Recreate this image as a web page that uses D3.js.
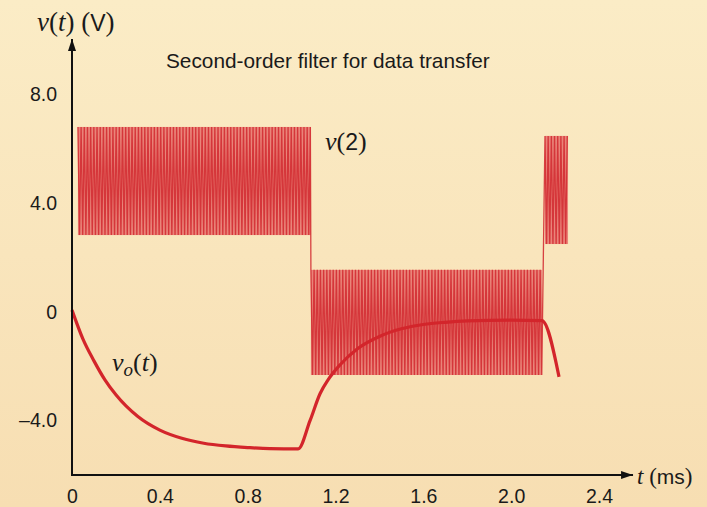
<!DOCTYPE html>
<html>
<head>
<meta charset="utf-8">
<script src="https://cdn.jsdelivr.net/npm/d3@7"></script>
<style>
  html, body { margin: 0; padding: 0; background: #f9e7c0; }
  svg { display: block; }
</style>
</head>
<body>
<svg id="chart" width="707" height="507"></svg>
<script>
// Axis tick values
const timeTicks = [0, 0.4, 0.8, 1.2, 1.6, 2.0, 2.4];   // ms
const voltTicks = [-4, 0, 4, 8];                          // V

// v(2): modulated data input, one entry per burst
const burstStart = [0.027, 1.088, 2.154];   // ms
const burstEnd   = [1.088, 2.140, 2.259];   // ms
const burstHigh  = [6.81, 1.55, 6.48];      // V
const burstLow   = [2.83, -2.32, 2.50];     // V
const carrierPeriod = 0.0145;               // ms

// v_o(t): filter output
const voTime = [0, 0.05, 0.10, 0.15, 0.20, 0.30, 0.40, 0.50, 0.60, 0.70, 0.80, 0.90, 1.03,
                1.084, 1.13, 1.166, 1.22, 1.30, 1.40, 1.50, 1.60, 1.70, 1.80, 2.00, 2.14, 2.218];
const voVolt = [0.07, -1.0, -1.8, -2.5, -3.05, -3.85, -4.35, -4.65, -4.83, -4.93, -4.99, -5.03, -5.04,
                -4.0, -3.0, -2.5, -1.95, -1.35, -0.9, -0.62, -0.46, -0.38, -0.33, -0.3, -0.32, -2.39];

const svg = d3.select("#chart");
const W = 707, H = 507;

// background wash
const defs = svg.append("defs");
const bg = defs.append("linearGradient").attr("id", "bg").attr("x1", 0).attr("y1", 0).attr("x2", 0).attr("y2", 1);
bg.append("stop").attr("offset", "0%").attr("stop-color", "#fbecc6");
bg.append("stop").attr("offset", "100%").attr("stop-color", "#f7deb2");
svg.append("rect").attr("width", W).attr("height", H).attr("fill", "url(#bg)");

defs.append("marker")
  .attr("id", "arrow").attr("viewBox", "0 0 12 8")
  .attr("refX", 12).attr("refY", 4)
  .attr("markerWidth", 12).attr("markerHeight", 8)
  .attr("markerUnits", "userSpaceOnUse")
  .attr("orient", "auto")
  .append("path").attr("d", "M0,0 L12,4 L0,8 Z").attr("fill", "#111");

const x = d3.scaleLinear().domain([0, 2.4]).range([72, 599]);
const y = d3.scaleLinear().domain([-6, 8]).range([475, 94.6]);

// v(2) bursts: shaded band with the carrier traced over it
const bands = svg.append("g");
burstStart.forEach((s, i) => {
  bands.append("rect")
    .attr("x", x(s)).attr("y", y(burstHigh[i]))
    .attr("width", x(burstEnd[i]) - x(s))
    .attr("height", y(burstLow[i]) - y(burstHigh[i]))
    .attr("fill", "#ea8479");
});

const carrierPts = [];
burstStart.forEach((s, i) => {
  const half = carrierPeriod / 2;
  let k = 0;
  for (let t = s; t <= burstEnd[i] + 1e-9; t += half, k++) {
    carrierPts.push([t, k % 2 === 0 ? burstHigh[i] : burstLow[i]]);
  }
});
svg.append("path")
  .datum(carrierPts)
  .attr("fill", "none")
  .attr("stroke", "#d32d33")
  .attr("stroke-width", 1.3)
  .attr("stroke-opacity", 0.9)
  .attr("d", d3.line().x(d => x(d[0])).y(d => y(d[1])));

// v_o(t)
svg.append("path")
  .datum(voTime.map((t, i) => [t, voVolt[i]]))
  .attr("fill", "none")
  .attr("stroke", "#d3252b")
  .attr("stroke-width", 3.2)
  .attr("stroke-linejoin", "round")
  .attr("d", d3.line().curve(d3.curveMonotoneX).x(d => x(d[0])).y(d => y(d[1])));

// axes with arrow heads
svg.append("line")
  .attr("x1", x(0)).attr("y1", y(-6)).attr("x2", x(0)).attr("y2", y(10.05))
  .attr("stroke", "#111").attr("stroke-width", 2).attr("marker-end", "url(#arrow)");
svg.append("line")
  .attr("x1", x(0) - 1).attr("y1", y(-6)).attr("x2", x(2.555)).attr("y2", y(-6))
  .attr("stroke", "#111").attr("stroke-width", 2).attr("marker-end", "url(#arrow)");

const sans = "'Liberation Sans', Arial, Helvetica, sans-serif";
const serif = "'Liberation Serif', 'Times New Roman', serif";

const fmtT = d => d === 0 ? "0" : d.toFixed(1);
const fmtV = d => d === 0 ? "0" : (d < 0 ? "\u2013" + Math.abs(d).toFixed(1) : d.toFixed(1));

const xAxis = svg.append("g")
  .attr("transform", `translate(0,${y(-6)})`)
  .call(d3.axisBottom(x).tickValues(timeTicks).tickSize(0).tickPadding(14).tickFormat(fmtT));
xAxis.select(".domain").remove();

const yAxis = svg.append("g")
  .attr("transform", `translate(${x(0)},0)`)
  .call(d3.axisLeft(y).tickValues(voltTicks).tickSize(0).tickPadding(15).tickFormat(fmtV));
yAxis.select(".domain").remove();

svg.selectAll(".tick text")
  .attr("font-family", sans).attr("font-size", 19.5).attr("fill", "#1a1a1a");

// titles and labels
svg.append("text")
  .attr("x", 166).attr("y", 68)
  .attr("font-family", sans).attr("font-size", 20.8).attr("fill", "#1a1a1a")
  .text("Second-order filter for data transfer");

const yLab = svg.append("text").attr("x", 37).attr("y", 31)
  .attr("font-size", 27).attr("fill", "#1a1a1a").attr("font-family", serif);
yLab.append("tspan").attr("font-style", "italic").text("v");
yLab.append("tspan").text("(");
yLab.append("tspan").attr("font-style", "italic").text("t");
yLab.append("tspan").text(") (");
yLab.append("tspan").attr("font-family", sans).attr("font-size", 23).text("V");
yLab.append("tspan").text(")");

const xLab = svg.append("text").attr("x", 637).attr("y", 484)
  .attr("font-size", 23).attr("fill", "#1a1a1a").attr("font-family", serif);
xLab.append("tspan").attr("font-style", "italic").text("t");
xLab.append("tspan").text(" (");
xLab.append("tspan").attr("font-family", sans).attr("font-size", 21).text("ms");
xLab.append("tspan").text(")");

const v2 = svg.append("text").attr("x", 325).attr("y", 150)
  .attr("font-size", 26).attr("fill", "#1a1a1a").attr("font-family", serif);
v2.append("tspan").attr("font-style", "italic").text("v");
v2.append("tspan").text("(");
v2.append("tspan").attr("font-family", sans).attr("font-size", 23).text("2");
v2.append("tspan").text(")");

const vo = svg.append("text").attr("x", 112).attr("y", 371)
  .attr("font-size", 26).attr("fill", "#1a1a1a").attr("font-family", serif);
vo.append("tspan").attr("font-style", "italic").text("v");
vo.append("tspan").attr("font-style", "italic").attr("font-size", 19).attr("dy", 5).text("o");
vo.append("tspan").attr("dy", -5).text("(");
vo.append("tspan").attr("font-style", "italic").text("t");
vo.append("tspan").text(")");
</script>
</body>
</html>
